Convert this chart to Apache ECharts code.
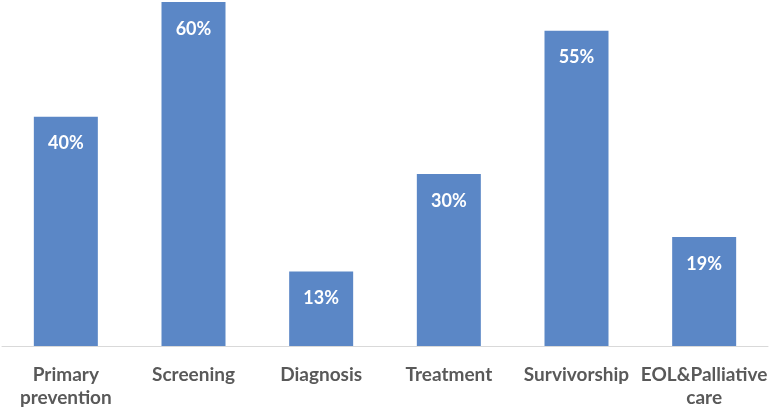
<!DOCTYPE html>
<html><head><meta charset="utf-8">
<script src="https://cdn.jsdelivr.net/npm/echarts@6/dist/echarts.min.js"></script>
<style>html,body{margin:0;padding:0;background:#fff}#c{width:771px;height:410px}</style>
</head><body><div id="c"></div>
<script>
const categories = ["Primary\nprevention", "Screening", "Diagnosis", "Treatment", "Survivorship", "EOL&Palliative\ncare"];
const values = [40, 60, 13, 30, 55, 19];
const chart = echarts.init(document.getElementById('c'), null, {renderer: 'canvas'});
chart.setOption({
  animation: false,
  grid: {left: 2, right: 3, top: 2, bottom: 64, containLabel: false},
  xAxis: {
    type: 'category', data: categories,
    axisLine: {lineStyle: {color: '#d9d9d9', width: 1}},
    axisTick: {show: false},
    axisLabel: {interval: 0, color: '#595959', fontFamily: 'Lato', fontWeight: 'bold', fontSize: 19, lineHeight: 23, margin: 17}
  },
  yAxis: {type: 'value', min: 0, max: 60, show: false, splitLine: {show: false}},
  series: [{
    type: 'bar', data: values, barWidth: 64,
    itemStyle: {color: '#5B87C6'},
    label: {show: true, position: 'insideTop', distance: 18, formatter: '{c}%', color: '#ffffff', fontFamily: 'Lato', fontWeight: 'bold', fontSize: 18}
  }]
});
</script></body></html>
